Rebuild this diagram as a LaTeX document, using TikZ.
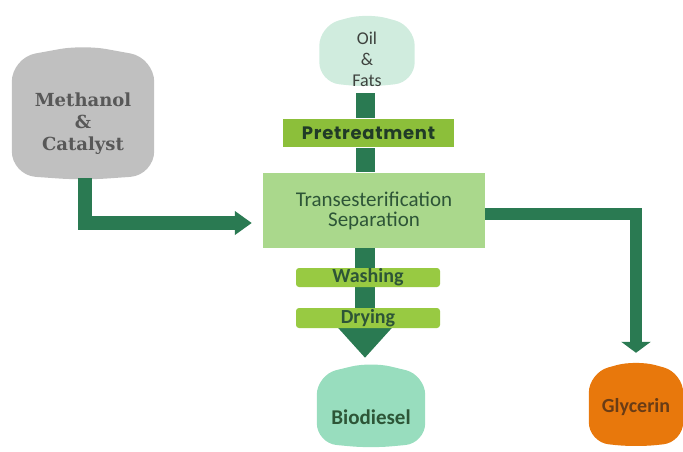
\documentclass[tikz,border=0pt]{standalone}
\usepackage{fontspec}
\setmainfont{Carlito}
\newfontfamily\slabfont{DejaVu Serif}
\newfontfamily\geofont[LetterSpace=4]{Poppins}
\usetikzlibrary{positioning, arrows.meta, backgrounds}
\definecolor{pipegreen}{RGB}{42,122,82}
\definecolor{methgray}{RGB}{192,192,192}
\definecolor{methtext}{RGB}{88,88,88}
\definecolor{oiltext}{RGB}{62,66,62}
\definecolor{oilmint}{RGB}{208,236,222}
\definecolor{biomint}{RGB}{152,221,190}
\definecolor{glyorange}{RGB}{232,120,12}
\definecolor{glytext}{RGB}{105,60,22}
\definecolor{pregreen}{RGB}{140,191,58}
\definecolor{washgreen}{RGB}{152,202,66}
\definecolor{transgreen}{RGB}{170,216,140}
\definecolor{darktext}{RGB}{45,85,55}

% domed tank drawn round an empty node
\newcommand{\tankfill}[3]{%
  \fill[#2, rounded corners=#3] ([yshift=5pt]#1.south west) -- ([yshift=-13pt]#1.north west)
    -- (#1.north) -- ([yshift=-13pt]#1.north east) -- ([yshift=5pt]#1.south east)
    -- (#1.south) -- cycle;}

\tikzset{
  tank/.style={draw=none, fill=none, inner sep=0pt},
  tanklabel/.style={align=center, inner sep=0pt},
  stepbox/.style={fill=#1, draw=none, inner sep=0pt},
  pipe/.style={draw=pipegreen, line width=14pt, -{Triangle[width=23pt,length=17pt]}},
  stub/.style={draw=pipegreen, line width=19pt}
}

\begin{document}
\begin{tikzpicture}[x=1pt, y=-1pt]
\useasboundingbox (0,0) rectangle (683,452);

\node[tank, minimum width=142pt, minimum height=135pt] (meth) at (83,112.5) {};
\node[tanklabel, text=methtext, font=\slabfont\bfseries\fontsize{18}{22}\selectfont] (methtxt) at (83,123.5) {Methanol\\\&\\Catalyst};

\node[tank, minimum width=95pt, minimum height=74pt] (oil) at (367,50) {};
\node[tanklabel, text=oiltext, font=\fontsize{18}{21}\selectfont] (oiltxt) at (367,59) {Oil\\\&\\Fats};

\node[stepbox=pregreen, minimum width=171pt, minimum height=28pt, text=darktext!70!black,
  font=\geofont\bfseries\fontsize{18}{18}\selectfont] (pre) at (368.5,133) {Pretreatment};

\node[stepbox=transgreen, minimum width=222pt, minimum height=75pt, align=center, text=darktext,
  font=\fontsize{21}{20}\selectfont] (trans) at (374,210.5) {Transesterification\\Separation};

\node[stepbox=washgreen, rounded corners=3pt, minimum width=144pt, minimum height=19pt, text=darktext,
  font=\bfseries\fontsize{20}{20}\selectfont] (wash) at (368,277.5) {Washing};
\node[stepbox=washgreen, rounded corners=3pt, minimum width=144pt, minimum height=20pt, text=darktext,
  font=\bfseries\fontsize{20}{20}\selectfont] (dry) at (368,318) {Drying};

\node[tank, minimum width=108pt, minimum height=86pt] (bio) at (371,405) {};
\node[tanklabel, text=darktext, font=\bfseries\fontsize{21}{21}\selectfont] (biotxt) at (371,417) {Biodiesel};

\node[tank, minimum width=94pt, minimum height=87pt] (gly) at (636,403.5) {};
\node[tanklabel, text=glytext, font=\bfseries\fontsize{20}{20}\selectfont] (glytxt) at (636,407) {Glycerin};

\coordinate (trunk) at (365,0);

\begin{scope}[on background layer]
\tankfill{meth}{methgray}{24pt}
\tankfill{oil}{oilmint}{20pt}
\tankfill{bio}{biomint}{20pt}
\tankfill{gly}{glyorange}{20pt}
\draw[stub, shorten <=6pt, shorten >=1pt] (oil.south -| trunk) -- (pre.north -| trunk);
\draw[stub, shorten <=1pt, shorten >=1pt] (pre.south -| trunk) -- (trans.north -| trunk);
\draw[draw=pipegreen, line width=20pt, -{Triangle[width=52pt,length=30pt]}, shorten >=4pt]
  (trans.south -| trunk) -- (bio.north -| trunk);
\end{scope}

\draw[pipe, shorten <=-2pt, shorten >=11pt] ([xshift=2pt]meth.south) |- ([yshift=-12.5pt]trans.west);
\draw[pipe, line width=12.5pt, -{Triangle[width=29pt,length=11pt]}, shorten >=7pt]
  ([yshift=-3.5pt]trans.east) -| (gly.north);
\end{tikzpicture}
\end{document}
